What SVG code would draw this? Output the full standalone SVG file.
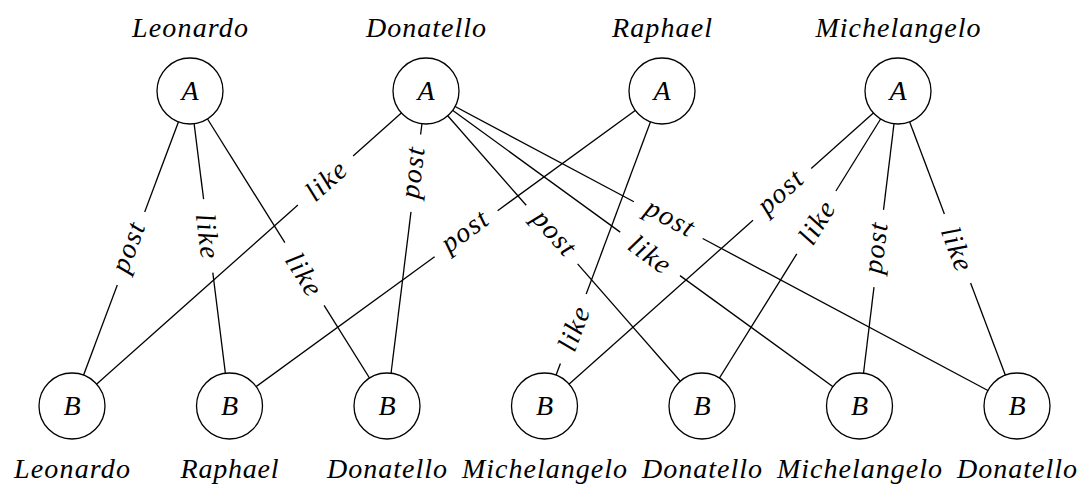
<svg xmlns="http://www.w3.org/2000/svg" width="1092" height="498" viewBox="0 0 1092 498">
<style>
  text { font-family: 'Liberation Serif', 'Times New Roman', serif; font-style: italic; font-size: 28px; fill: #000; text-anchor: middle; }
  .node circle { fill: #fff; stroke: #000; stroke-width: 1.3; }
  #edges line { stroke: #000; stroke-width: 1.3; fill: none; }
</style>
<rect width="1092" height="498" fill="#fff"/>
<g id="edges">
  <g id="e1"><line x1="190" y1="91" x2="144.7" y2="212.0"/><line x1="117.3" y1="285.0" x2="72" y2="406"/>
    <text transform="translate(131 248.5) rotate(-69.46)" y="5.9" textLength="51">post</text></g>
  <g id="e2"><line x1="190" y1="91" x2="203.6" y2="199.2"/><line x1="212.8" y1="272.6" x2="229.5" y2="406"/>
    <text transform="translate(208.2 235.9) rotate(82.85)" y="9.7" textLength="45">like</text></g>
  <g id="e3"><line x1="190" y1="91" x2="284.9" y2="242.6"/><line x1="324.1" y1="305.4" x2="387" y2="406"/>
    <text transform="translate(304.5 274) rotate(57.98)" y="9.7" textLength="45">like</text></g>
  <g id="e4"><line x1="426" y1="91" x2="353.1" y2="155.9"/><line x1="297.9" y1="205.1" x2="72" y2="406"/>
    <text transform="translate(325.5 180.5) rotate(-41.67)" y="9.7" textLength="45">like</text></g>
  <g id="e5"><line x1="426" y1="91" x2="420.6" y2="134.5"/><line x1="411.0" y1="211.9" x2="387" y2="406"/>
    <text transform="translate(415.8 173.2) rotate(-82.94)" y="5.9" textLength="51">post</text></g>
  <g id="e6"><line x1="426" y1="91" x2="526.2" y2="205.3"/><line x1="577.6" y1="263.9" x2="702" y2="406"/>
    <text transform="translate(551.9 234.6) rotate(48.77)" y="5.9" textLength="51">post</text></g>
  <g id="e7"><line x1="426" y1="91" x2="620.2" y2="232.1"/><line x1="680.0" y1="275.6" x2="859.5" y2="406"/>
    <text transform="translate(650.1 253.9) rotate(36.0)" y="9.7" textLength="45">like</text></g>
  <g id="e8"><line x1="426" y1="91" x2="633.9" y2="201.8"/><line x1="702.7" y1="238.5" x2="1017" y2="406"/>
    <text transform="translate(668.3 220.2) rotate(28.06)" y="5.9" textLength="51">post</text></g>
  <g id="e9"><line x1="662" y1="91" x2="497.6" y2="210.7"/><line x1="434.6" y1="256.7" x2="229.5" y2="406"/>
    <text transform="translate(466.1 233.7) rotate(-36.07)" y="5.9" textLength="51">post</text></g>
  <g id="e10"><line x1="662" y1="91" x2="586.2" y2="294.1"/><line x1="560.4" y1="363.5" x2="544.5" y2="406"/>
    <text transform="translate(573.3 328.8) rotate(-69.55)" y="9.7" textLength="45">like</text></g>
  <g id="e11"><line x1="898" y1="91" x2="811.2" y2="168.4"/><line x1="753.0" y1="220.3" x2="544.5" y2="406"/>
    <text transform="translate(782.1 194.3) rotate(-41.71)" y="5.9" textLength="51">post</text></g>
  <g id="e12"><line x1="898" y1="91" x2="835.9" y2="191.0"/><line x1="796.8" y1="253.8" x2="702" y2="406"/>
    <text transform="translate(816.3 222.4) rotate(-58.11)" y="9.7" textLength="45">like</text></g>
  <g id="e13"><line x1="898" y1="91" x2="883.5" y2="209.8"/><line x1="874.0" y1="287.2" x2="859.5" y2="406"/>
    <text transform="translate(878.75 248.5) rotate(-83.03)" y="5.9" textLength="51">post</text></g>
  <g id="e14"><line x1="898" y1="91" x2="944.4" y2="213.9"/><line x1="970.6" y1="283.1" x2="1017" y2="406"/>
    <text transform="translate(957.5 248.5) rotate(69.31)" y="9.7" textLength="45">like</text></g>
</g>
<g id="a-leonardo" class="node"><circle cx="190" cy="91" r="33"/><text x="190" y="100">A</text><text x="190" y="37" textLength="116">Leonardo</text></g>
<g id="a-donatello" class="node"><circle cx="426" cy="91" r="33"/><text x="426" y="100">A</text><text x="426" y="37" textLength="120">Donatello</text></g>
<g id="a-raphael" class="node"><circle cx="662" cy="91" r="33"/><text x="662" y="100">A</text><text x="662" y="37" textLength="100">Raphael</text></g>
<g id="a-michelangelo" class="node"><circle cx="898" cy="91" r="33"/><text x="898" y="100">A</text><text x="898" y="37" textLength="165">Michelangelo</text></g>
<g id="b-leonardo" class="node"><circle cx="72" cy="406" r="33"/><text x="72" y="415">B</text><text x="72" y="478" textLength="116">Leonardo</text></g>
<g id="b-raphael" class="node"><circle cx="229.5" cy="406" r="33"/><text x="229.5" y="415">B</text><text x="229.5" y="478" textLength="98">Raphael</text></g>
<g id="b-donatello1" class="node"><circle cx="387" cy="406" r="33"/><text x="387" y="415">B</text><text x="387" y="478" textLength="120">Donatello</text></g>
<g id="b-michelangelo1" class="node"><circle cx="544.5" cy="406" r="33"/><text x="544.5" y="415">B</text><text x="544.5" y="478" textLength="165">Michelangelo</text></g>
<g id="b-donatello2" class="node"><circle cx="702" cy="406" r="33"/><text x="702" y="415">B</text><text x="702" y="478" textLength="120">Donatello</text></g>
<g id="b-michelangelo2" class="node"><circle cx="859.5" cy="406" r="33"/><text x="859.5" y="415">B</text><text x="859.5" y="478" textLength="165">Michelangelo</text></g>
<g id="b-donatello3" class="node"><circle cx="1017" cy="406" r="33"/><text x="1017" y="415">B</text><text x="1017" y="478" textLength="120">Donatello</text></g>
</svg>
